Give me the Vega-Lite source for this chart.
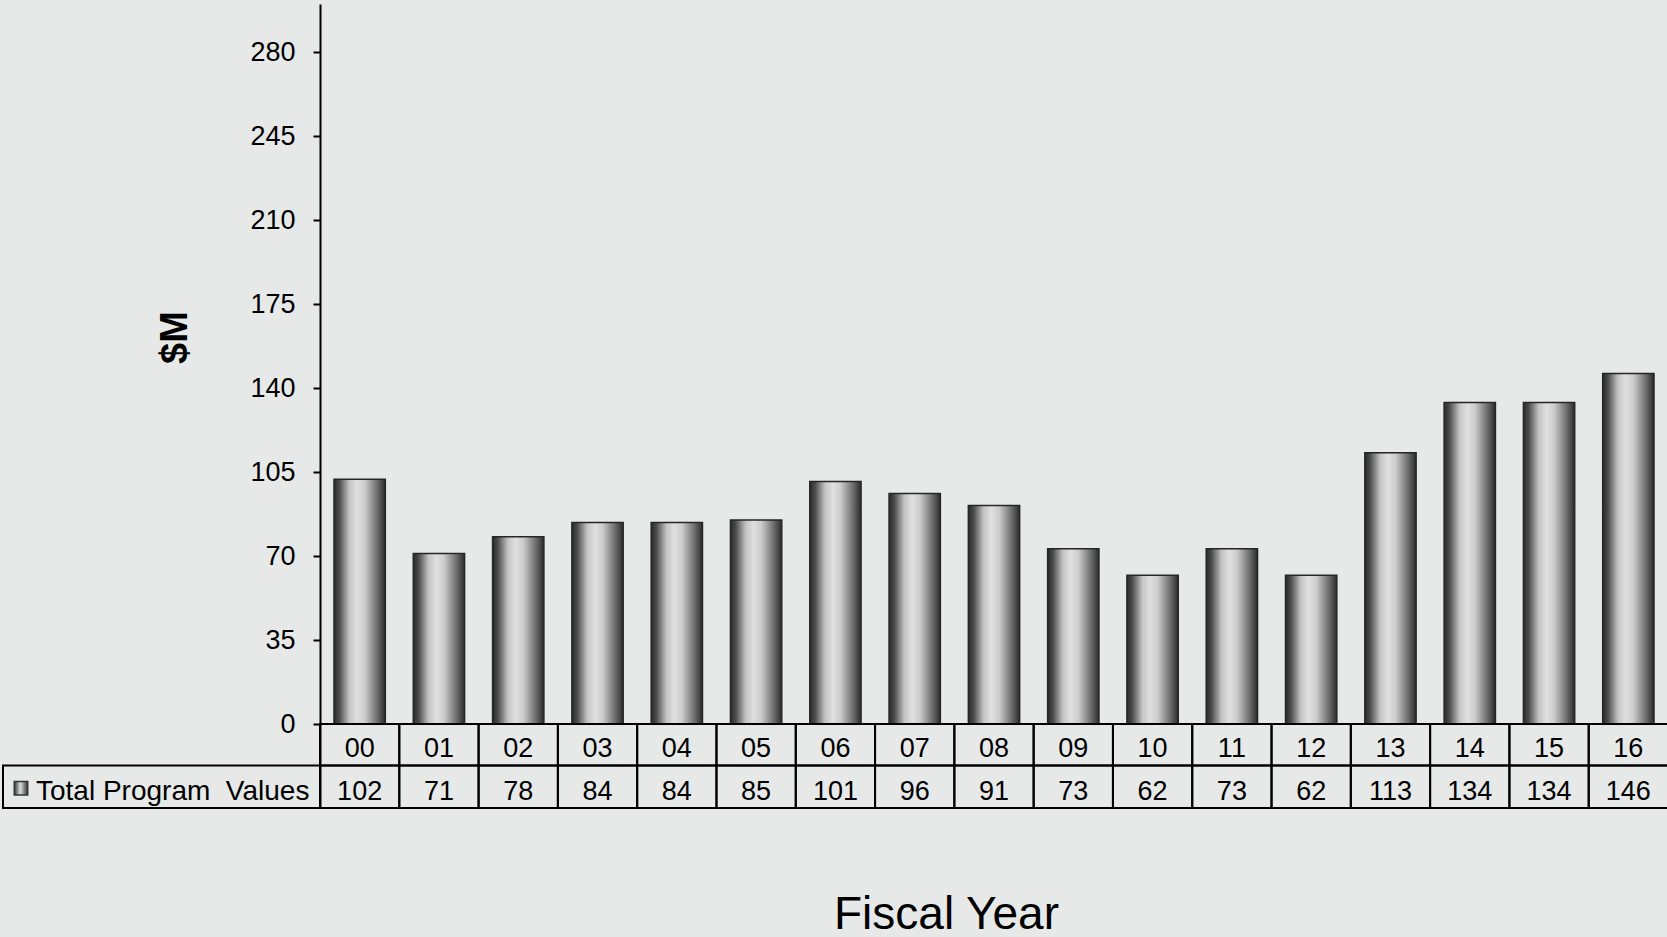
{
  "$schema": "https://vega.github.io/schema/vega-lite/v6.json",
  "width": 1665,
  "height": 804,
  "padding": {"left": 2, "top": 4, "right": 0, "bottom": 0},
  "background": "#e6e9e8",
  "view": {"stroke": null},
  "config": {"font": "Liberation Sans"},
  "datasets": {
    "fy": [
      {"year": "00", "value": 102},
      {"year": "01", "value": 71},
      {"year": "02", "value": 78},
      {"year": "03", "value": 84},
      {"year": "04", "value": 84},
      {"year": "05", "value": 85},
      {"year": "06", "value": 101},
      {"year": "07", "value": 96},
      {"year": "08", "value": 91},
      {"year": "09", "value": 73},
      {"year": "10", "value": 62},
      {"year": "11", "value": 73},
      {"year": "12", "value": 62},
      {"year": "13", "value": 113},
      {"year": "14", "value": 134},
      {"year": "15", "value": 134},
      {"year": "16", "value": 146}
    ],
    "lbl": [{"label": "Total Program\u00a0 Values"}]
  },
  "data": {"name": "fy"},
  "layer": [
    {
      "mark": {
        "type": "bar",
        "width": {"band": 0.647},
        "stroke": "#262626",
        "strokeWidth": 1.5,
        "fill": {
          "gradient": "linear", "x1": 0, "y1": 0, "x2": 1, "y2": 0,
          "stops": [
            {"offset": 0, "color": "#2b2b2b"},
            {"offset": 0.1, "color": "#4a4a4a"},
            {"offset": 0.3, "color": "#c4c4c4"},
            {"offset": 0.45, "color": "#e0e0e0"},
            {"offset": 0.6, "color": "#cccccc"},
            {"offset": 0.85, "color": "#6a6a6a"},
            {"offset": 1, "color": "#2b2b2b"}
          ]
        }
      },
      "encoding": {
        "x": {
          "field": "year", "type": "nominal", "sort": null,
          "scale": {"paddingInner": 0, "paddingOuter": 0, "range": [317, 1665]},
          "axis": {
            "labels": false, "ticks": false, "domain": false,
            "title": "Fiscal Year", "titleFontSize": 46, "titleFontWeight": "normal",
            "titleColor": "#000", "titlePadding": 84, "titleX": 943
          }
        },
        "y": {
          "field": "value", "type": "quantitative",
          "scale": {"domain": [-35, 300], "nice": false, "zero": false},
          "axis": {
            "values": [0, 35, 70, 105, 140, 175, 210, 245, 280],
            "offset": -317, "grid": false,
            "domainColor": "#000", "domainWidth": 2,
            "tickColor": "#000", "tickWidth": 2, "tickSize": 7,
            "labelFontSize": 27, "labelColor": "#000", "labelPadding": 18,
            "labelFlush": false, "labelOverlap": false,
            "title": "$M", "titleFontSize": 38, "titleFontWeight": "bold",
            "titleColor": "#000", "titleX": -145, "titleY": 333,
            "titleBaseline": "middle", "titleAngle": -90
          }
        }
      }
    },
    {
      "mark": {"type": "rect", "fill": null, "stroke": "#000", "strokeWidth": 2},
      "encoding": {
        "x": {"field": "year", "type": "nominal", "sort": null},
        "y": {"datum": 0, "type": "quantitative"},
        "y2": {"datum": -17.25}
      }
    },
    {
      "mark": {"type": "rect", "fill": null, "stroke": "#000", "strokeWidth": 2},
      "encoding": {
        "x": {"field": "year", "type": "nominal", "sort": null},
        "y": {"datum": -17.25, "type": "quantitative"},
        "y2": {"datum": -35}
      }
    },
    {
      "mark": {"type": "text", "fontSize": 27, "color": "#000", "baseline": "middle"},
      "encoding": {
        "x": {"field": "year", "type": "nominal", "sort": null},
        "y": {"datum": -10.3, "type": "quantitative"},
        "text": {"field": "year"}
      }
    },
    {
      "mark": {"type": "text", "fontSize": 27, "color": "#000", "baseline": "middle"},
      "encoding": {
        "x": {"field": "year", "type": "nominal", "sort": null},
        "y": {"datum": -28.2, "type": "quantitative"},
        "text": {"field": "value"}
      }
    },
    {
      "data": {"name": "lbl"},
      "mark": {"type": "rect", "fill": null, "stroke": "#000", "strokeWidth": 2},
      "encoding": {
        "x": {"value": 0},
        "x2": {"value": 317},
        "y": {"datum": -17.25, "type": "quantitative"},
        "y2": {"datum": -35}
      }
    },
    {
      "data": {"name": "lbl"},
      "mark": {
        "type": "point", "shape": "square", "size": 180, "filled": true, "opacity": 1,
        "stroke": "#333", "strokeWidth": 1.5,
        "fill": {
          "gradient": "linear", "x1": 0, "y1": 0, "x2": 1, "y2": 0,
          "stops": [
            {"offset": 0, "color": "#333333"},
            {"offset": 0.45, "color": "#dddddd"},
            {"offset": 1, "color": "#333333"}
          ]
        }
      },
      "encoding": {
        "x": {"value": 18},
        "y": {"datum": -26.8, "type": "quantitative"}
      }
    },
    {
      "data": {"name": "lbl"},
      "mark": {"type": "text", "fontSize": 28, "color": "#000", "baseline": "middle", "align": "left"},
      "encoding": {
        "x": {"value": 33},
        "y": {"datum": -28.2, "type": "quantitative"},
        "text": {"field": "label"}
      }
    }
  ]
}
